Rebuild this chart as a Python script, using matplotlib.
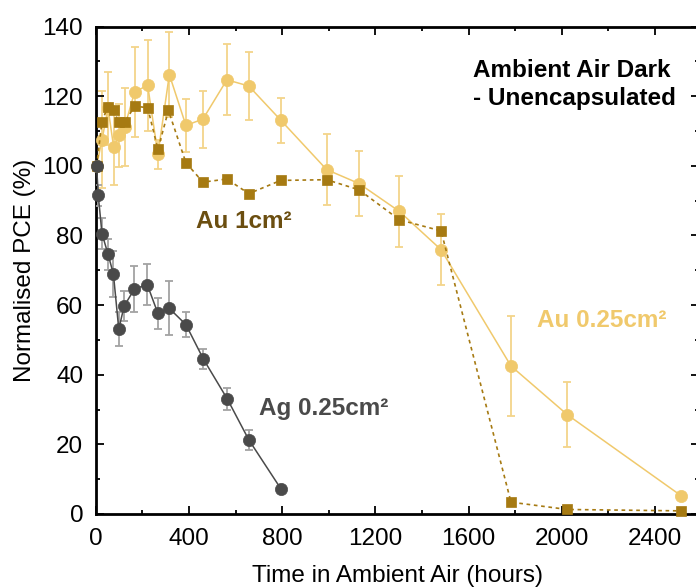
import matplotlib
matplotlib.use("Agg")
import matplotlib.pyplot as plt
from matplotlib.ticker import MultipleLocator

plt.rcParams['font.family'] = ['Liberation Sans', 'DejaVu Sans']

# ---- data ----
ag_t = [4, 11, 27, 53, 76, 99, 122, 166, 221, 267, 315, 387, 462, 565, 657, 794]
ag_y = [99.8, 91.5, 80.5, 74.6, 68.9, 53.1, 59.7, 64.6, 65.9, 57.6, 59.1, 54.4, 44.5, 33.0, 21.3, 7.3]
ag_err = [0, 3.0, 4.5, 4.4, 6.5, 4.9, 4.3, 6.5, 5.8, 4.4, 7.8, 3.6, 3.0, 3.2, 2.8, 0]

au25_t = [4, 27, 53, 77, 99, 124, 167, 223, 267, 316, 387, 460, 563, 657, 794, 991, 1130, 1303, 1482, 1782, 2024, 2513]
au25_y = [100, 107.5, 116.5, 105.4, 108.7, 111.1, 121.2, 123.1, 103.3, 126.2, 111.6, 113.4, 124.7, 122.9, 113.1, 98.9, 94.9, 86.9, 75.9, 42.5, 28.5, 5.2]
au25_err = [0, 14.0, 10.5, 11.0, 9.1, 11.1, 13.0, 13.1, 4.2, 12.2, 7.5, 8.2, 10.2, 9.8, 6.5, 10.3, 9.4, 10.3, 10.2, 14.4, 9.4, 0.5]

au1_t = [4, 27, 51, 77, 99, 124, 167, 223, 267, 312, 387, 460, 563, 657, 794, 991, 1130, 1303, 1482, 1782, 2024, 2513]
au1_y = [100, 112.7, 116.8, 115.9, 112.5, 112.5, 117.1, 116.7, 104.7, 115.9, 100.9, 95.3, 96.2, 92.0, 95.8, 96.0, 93.1, 84.5, 81.3, 3.4, 1.3, 0.9]

x_ticks = [0, 400, 800, 1200, 1600, 2000, 2400]
y_ticks = [0, 20, 40, 60, 80, 100, 120, 140]

# ---- colours ----
c_ag = '#4a4a4a'
c_ag_err = '#a3a3a3'
c_au25 = '#f0c96c'
c_au25_err = '#f3d48a'
c_au1 = '#a67a12'
c_au1_txt = '#6b4e10'

W, H = 696, 587
fig = plt.figure(figsize=(W / 100, H / 100), dpi=100)
left, right, bottom, top = 95.7, 699.3, 514.0, 26.5
ax = fig.add_axes([left / W, (H - bottom) / H, (right - left) / W, (bottom - top) / H])

# Au 0.25 cm2 (bottom layer)
ax.errorbar(au25_t, au25_y, yerr=au25_err, fmt='none', ecolor=c_au25_err,
            elinewidth=1.3, capsize=3.0, capthick=1.3, zorder=1)
ax.plot(au25_t, au25_y, '-', color=c_au25, lw=1.1, zorder=2)
ax.plot(au25_t, au25_y, 'o', color=c_au25, ms=8.8, mec=c_au25, mew=0.5, zorder=3, clip_on=False)

# Au 1 cm2
ax.plot(au1_t, au1_y, linestyle=(0, (2.2, 2.2)), color=c_au1, lw=1.2, zorder=4)
ax.plot(au1_t, au1_y, 's', color=c_au1, ms=7.4, mec=c_au1, mew=0.5, zorder=5, clip_on=False)

# Ag 0.25 cm2
ax.errorbar(ag_t, ag_y, yerr=ag_err, fmt='none', ecolor=c_ag_err,
            elinewidth=1.3, capsize=3.0, capthick=1.3, zorder=6)
ax.plot(ag_t, ag_y, '-', color=c_ag, lw=1.1, zorder=7)
ax.plot(ag_t, ag_y, 'o', color=c_ag, ms=8.8, mec=c_ag, mew=0.5, zorder=8, clip_on=False)

ax.set_xlim(0, 2590)
ax.set_ylim(0, 140)
ax.set_xticks(x_ticks)
ax.set_yticks(y_ticks)
ax.xaxis.set_minor_locator(MultipleLocator(200))
ax.yaxis.set_minor_locator(MultipleLocator(10))
ax.tick_params(which='both', direction='in', top=True, right=True, width=1.3,
               labelsize=17.5)
ax.tick_params(axis='x', pad=10)
ax.tick_params(axis='y', pad=9)
ax.tick_params(which='major', length=6)
ax.tick_params(which='minor', length=3)
for s in ax.spines.values():
    s.set_linewidth(2)

ax.set_xlabel('Time in Ambient Air (hours)', fontsize=17.5, labelpad=11)
ax.set_ylabel('Normalised PCE (%)', fontsize=17.5, labelpad=5)

# annotations
ax.text(1618, 125.4, 'Ambient Air Dark', fontsize=17.5, fontweight='bold', color='black',
        ha='left', va='baseline')
ax.text(1618, 117.5, '- Unencapsulated', fontsize=17.5, fontweight='bold', color='black',
        ha='left', va='baseline')
ax.text(431, 82.0, 'Au 1cm²', fontsize=17.5, fontweight='bold', color=c_au1_txt,
        ha='left', va='baseline')
ax.text(1894, 53.6, 'Au 0.25cm²', fontsize=17.5, fontweight='bold', color=c_au25,
        ha='left', va='baseline')
ax.text(701, 28.4, 'Ag 0.25cm²', fontsize=17.5, fontweight='bold', color=c_ag,
        ha='left', va='baseline')

fig.savefig('out.png', dpi=100)
